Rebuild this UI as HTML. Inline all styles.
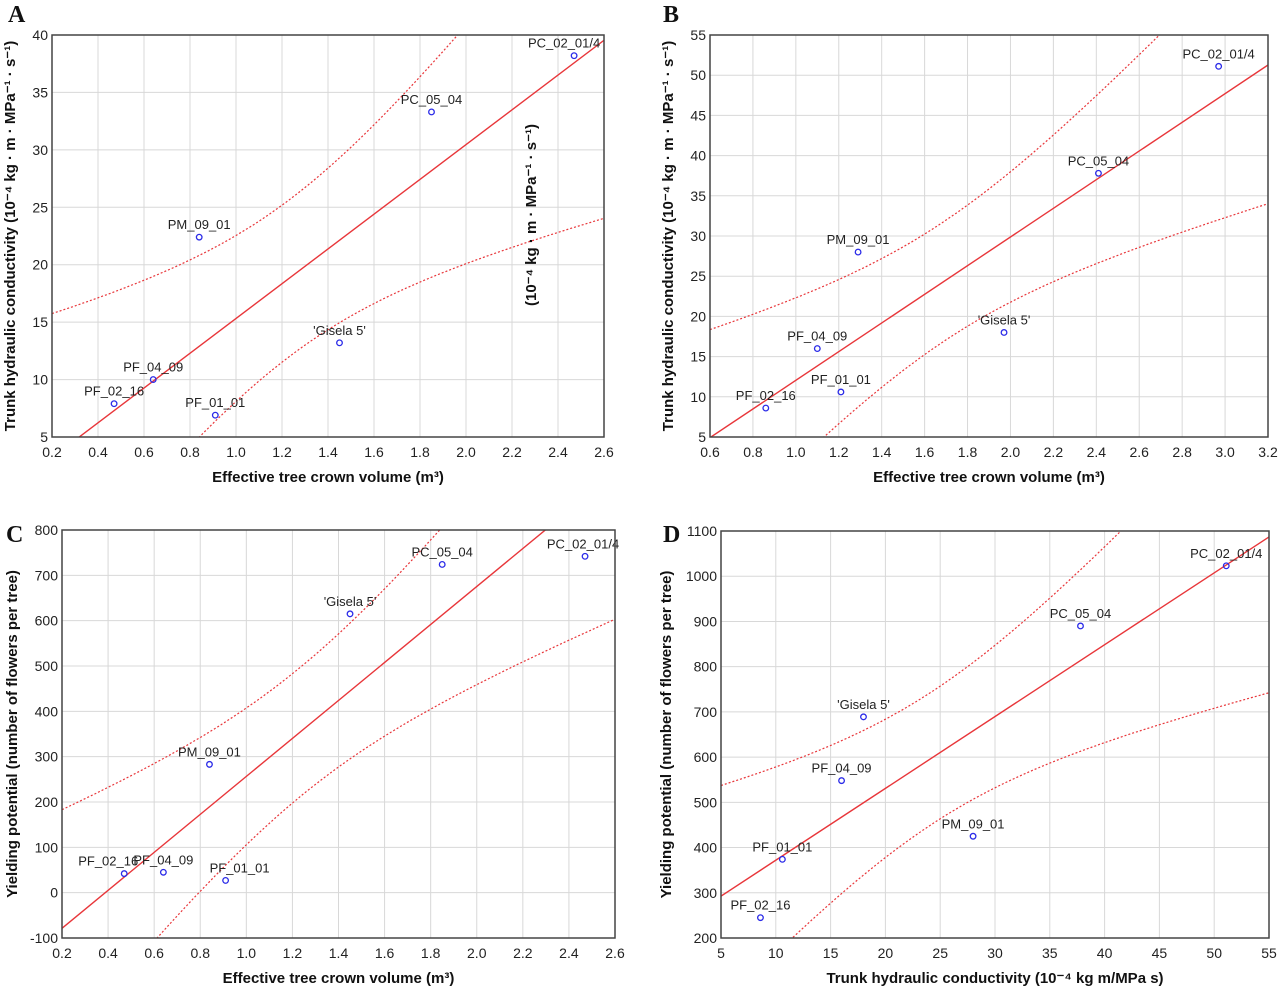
<!DOCTYPE html>
<html><head><meta charset="utf-8">
<style>
html,body{margin:0;padding:0;background:#fff;overflow:hidden;width:1280px;height:991px;position:relative;}
svg{display:block;overflow:hidden;font-family:"Liberation Sans",Arial,sans-serif;}
</style></head>
<body>
<svg id="fig" width="1280" height="991" viewBox="0 0 1280 991" xmlns="http://www.w3.org/2000/svg"></svg>
<script>
const names = ["PF_02_16","PF_04_09","PF_01_01","PM_09_01","'Gisela 5'","PC_05_04","PC_02_01/4"];
const crownA = [0.47,0.64,0.91,0.84,1.45,1.85,2.47];
const condA = [7.9,10.0,6.9,22.4,13.2,33.3,38.2];
const crownB = [0.86,1.10,1.21,1.29,1.97,2.41,2.97];
const condB = [8.6,16.0,10.6,28.0,18.0,37.8,51.1];
const crownC = [0.47,0.64,0.91,0.84,1.45,1.85,2.47];
const flowersC = [42,45,27,283,615,724,742];
const condD = [8.6,16.0,10.6,28.0,18.0,37.8,51.1];
const flowersD = [245,548,374,425,689,890,1023];
const xTicksA = [0.2,0.4,0.6,0.8,1.0,1.2,1.4,1.6,1.8,2.0,2.2,2.4,2.6];
const yTicksA = [5,10,15,20,25,30,35,40];
const xTicksB = [0.6,0.8,1.0,1.2,1.4,1.6,1.8,2.0,2.2,2.4,2.6,2.8,3.0,3.2];
const yTicksB = [5,10,15,20,25,30,35,40,45,50,55];
const xTicksC = xTicksA;
const yTicksC = [-100,0,100,200,300,400,500,600,700,800];
const xTicksD = [5,10,15,20,25,30,35,40,45,50,55];
const yTicksD = [200,300,400,500,600,700,800,900,1000,1100];

const NS="http://www.w3.org/2000/svg";
const svg=document.getElementById('fig');
function mk(tag,attrs,parent,text){const e=document.createElementNS(NS,tag);for(const k in attrs)e.setAttribute(k,attrs[k]);if(text!==undefined)e.textContent=text;(parent||svg).appendChild(e);return e;}

const panels=[
 {id:'a',letter:'A',lx:8,ly:22,L:52,R:604,T:35,B:437,xs:crownA,ys:condA,xt:xTicksA,yt:yTicksA,dec:1,
  xtitle:'Effective tree crown volume (m³)',ytitle:'Trunk hydraulic conductivity (10⁻⁴ kg · m · MPa⁻¹ · s⁻¹)',
  lab:[[0,-8],[0,-8],[0,-8],[0,-8],[0,-8],[0,-8],[-10,-8]]},
 {id:'b',letter:'B',lx:663,ly:22,L:710,R:1268,T:35,B:437,xs:crownB,ys:condB,xt:xTicksB,yt:yTicksB,dec:1,
  xtitle:'Effective tree crown volume (m³)',ytitle:'Trunk hydraulic conductivity (10⁻⁴ kg · m · MPa⁻¹ · s⁻¹)',
  lab:[[0,-8],[0,-8],[0,-8],[0,-8],[0,-8],[0,-8],[0,-8]]},
 {id:'c',letter:'C',lx:6,ly:542,L:62,R:615,T:530,B:938,xs:crownC,ys:flowersC,xt:xTicksC,yt:yTicksC,dec:1,
  xtitle:'Effective tree crown volume (m³)',ytitle:'Yielding potential (number of flowers per tree)',
  lab:[[-16,-8],[0,-8],[14,-8],[0,-8],[0,-8],[0,-8],[-2,-8]]},
 {id:'d',letter:'D',lx:663,ly:542,L:721,R:1269,T:531,B:938,xs:condD,ys:flowersD,xt:xTicksD,yt:yTicksD,dec:0,
  xtitle:'Trunk hydraulic conductivity (10⁻⁴ kg m/MPa s)',ytitle:'Yielding potential (number of flowers per tree)',
  lab:[[0,-8],[0,-8],[0,-8],[0,-8],[0,-8],[0,-8],[0,-8]]}
];

panels.forEach(p=>{
 const g=mk('g',{});  
 const x0=p.xt[0],x1=p.xt[p.xt.length-1],y0=p.yt[0],y1=p.yt[p.yt.length-1];
 const sx=v=>p.L+(v-x0)/(x1-x0)*(p.R-p.L);
 const sy=v=>p.B-(v-y0)/(y1-y0)*(p.B-p.T);
 const cid='clip'+p.id;
 const cp=mk('clipPath',{id:cid},g); mk('rect',{x:p.L,y:p.T,width:p.R-p.L,height:p.B-p.T},cp);
 const grid=mk('g',{},g);  
 p.xt.forEach(t=>{
  mk('line',{x1:sx(t),x2:sx(t),y1:p.T,y2:p.B,stroke:'#d8d8d8','stroke-width':1},grid);
  const tl=mk('text',{x:sx(t),y:p.B+20,'text-anchor':'middle','font-size':14,fill:'#222'},g,t.toFixed(p.dec));
   
 });
 p.yt.forEach(t=>{
  mk('line',{x1:p.L,x2:p.R,y1:sy(t),y2:sy(t),stroke:'#d8d8d8','stroke-width':1},grid);
  const tl=mk('text',{x:p.L-4,y:sy(t)+5,'text-anchor':'end','font-size':14,fill:'#222'},g,String(t));
   
 });
 const n=p.xs.length, mx=p.xs.reduce((a,b)=>a+b)/n, my=p.ys.reduce((a,b)=>a+b)/n;
 let sxx=0,sxy=0; p.xs.forEach((x,i)=>{sxx+=(x-mx)**2;sxy+=(x-mx)*(p.ys[i]-my);});
 const b=sxy/sxx,a=my-b*mx; let sse=0; p.xs.forEach((x,i)=>{sse+=(p.ys[i]-a-b*x)**2;});
 const s=Math.sqrt(sse/(n-2)), tq=2.571;
 const cg=mk('g',{'clip-path':'url(#'+cid+')'},g);
 const fit=mk('line',{x1:sx(x0),y1:sy(a+b*x0),x2:sx(x1),y2:sy(a+b*x1),stroke:'#e8363a','stroke-width':1.4},cg);
  
 [1,-1].forEach(sg=>{
  let d=''; for(let k=0;k<=120;k++){const x=x0+(x1-x0)*k/120; const y=a+b*x+sg*tq*s*Math.sqrt(1/n+(x-mx)**2/sxx); d+=(k?'L':'M')+sx(x).toFixed(1)+','+sy(y).toFixed(1);}
  const band=mk('path',{d:d,fill:'none',stroke:'#e8363a','stroke-width':1.2,'stroke-dasharray':'2,2'},cg);
   
 });
 p.xs.forEach((x,i)=>{
  const c=mk('circle',{cx:sx(x),cy:sy(p.ys[i]),r:2.8,fill:'none',stroke:'#2b2be8','stroke-width':1.3},g);
   
  const t=mk('text',{x:sx(x)+p.lab[i][0],y:sy(p.ys[i])+p.lab[i][1],'text-anchor':'middle','font-size':13,fill:'#222'},g,names[i]);
   
 });
 const fr=mk('rect',{x:p.L,y:p.T,width:p.R-p.L,height:p.B-p.T,fill:'none',stroke:'#444','stroke-width':1.5},g);
  
 const xt=mk('text',{x:(p.L+p.R)/2,y:p.B+45,'text-anchor':'middle','font-size':15,'font-weight':'bold',fill:'#111'},g,p.xtitle);
  
 const ycx=p.L-(p.id==='a'||p.id==='b'?37:p.id==='c'?45:50), ycy=(p.T+p.B)/2;
 const yt=mk('text',{x:ycx,y:ycy,'text-anchor':'middle','font-size':15,'font-weight':'bold',fill:'#111',transform:'rotate(-90 '+ycx+' '+ycy+')'},g,p.ytitle);
  
 const lt=mk('text',{x:p.lx,y:p.ly,'font-size':24,'font-weight':'bold','font-family':'"Liberation Serif",serif',fill:'#111'},g,p.letter);
  
});
const stray=mk('text',{x:536,y:215,'text-anchor':'middle','font-size':15,'font-weight':'bold',fill:'#111',transform:'rotate(-90 536 215)'},svg,'(10⁻⁴ kg · m · MPa⁻¹ · s⁻¹)');


</script>
</body></html>
